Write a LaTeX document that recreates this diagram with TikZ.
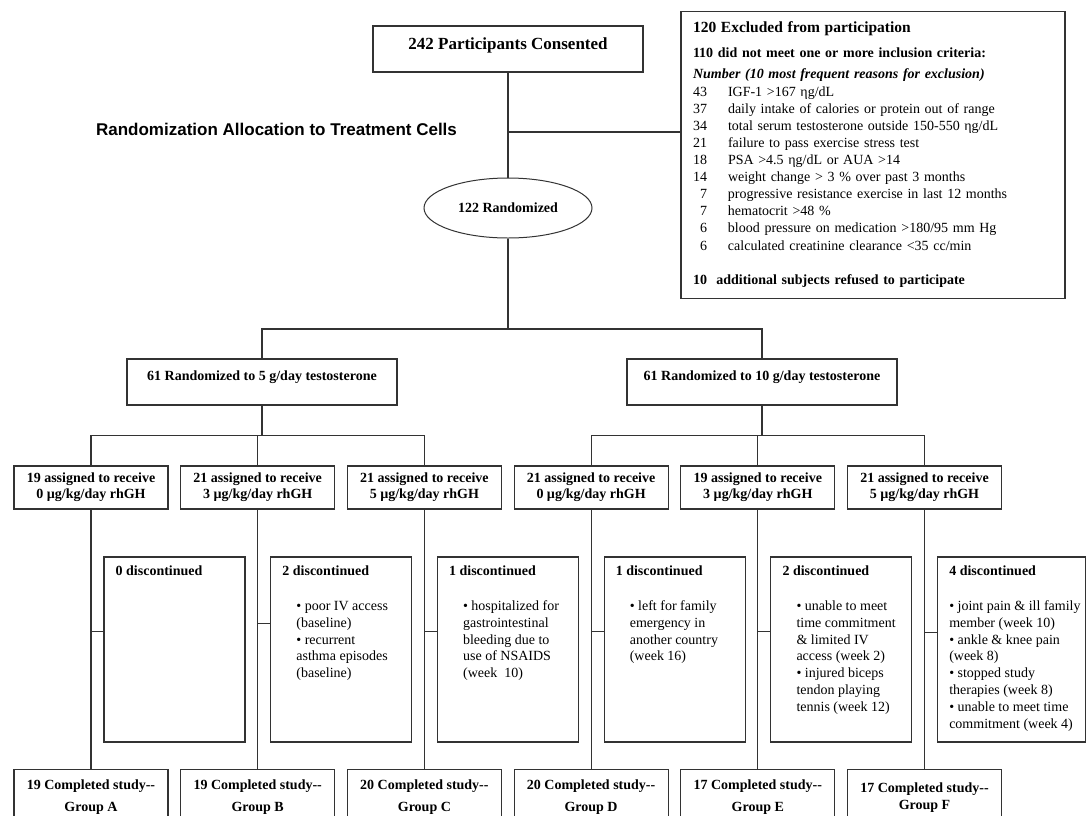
\documentclass[tikz,border=0pt]{standalone}
\usepackage{fontspec}
\setmainfont{Liberation Serif}
\newfontfamily\headfont{Liberation Sans}
\usetikzlibrary{shapes.geometric}

\definecolor{boxline}{HTML}{333333}
\tikzstyle{stage} = [rectangle, minimum width=270pt, minimum height=46pt, text centered, draw=boxline, line width=1.2pt, font=\bfseries\fontsize{14}{16}\selectfont, text depth=12pt]
\tikzstyle{arm} = [rectangle, minimum width=154pt, minimum height=43pt, text centered, align=center, draw=boxline, line width=1.2pt, font=\bfseries\fontsize{14}{16}\selectfont]
\tikzstyle{drop} = [rectangle, inner xsep=11.7pt, inner ysep=9pt, draw=boxline, line width=1.2pt, font=\fontsize{14}{16.8}\selectfont]
\tikzstyle{done} = [rectangle, minimum width=154pt, minimum height=56pt, text centered, align=center, draw=boxline, line width=1.2pt, font=\bfseries\fontsize{14}{22}\selectfont]
\tikzstyle{link} = [draw=boxline, line width=1.2pt]

\newcommand{\droptext}[2][117.6pt]{\parbox[t][167pt][t]{#1}{\raggedright #2}}
\newcommand{\reason}[2]{\makebox[14pt][r]{#1}\hspace{21pt}#2}

\begin{document}
\begin{tikzpicture}[x=1pt, y=-1pt, node distance=166.7pt]
\useasboundingbox[fill=white] (0,0) rectangle (1090,815);
\clip (0,0) rectangle (1090,815);

% Nodes
\node (title) [font=\headfont\bfseries\fontsize{17}{20}\selectfont] at (276.5,129) {Randomization Allocation to Treatment Cells};
\node (consent) [stage, font=\bfseries\fontsize{17}{20}\selectfont, text depth=10pt] at (508,49) {242 Participants Consented};
\node (excluded) [rectangle, draw=boxline, line width=1.2pt, minimum height=286.6pt, text width=360pt, inner xsep=12pt, align=left, font=\fontsize{14}{17}\selectfont] at (873,155) {%
{\fontsize{15.5}{17}\selectfont\bfseries 120 Excluded from participation}\\[8pt]
\textbf{110 did not meet one or more inclusion criteria:}\\[4pt]
\textbf{\itshape Number (10 most frequent reasons for exclusion)}\\[1pt]
\reason{43}{IGF-1 >167 ηg/dL}\\
\reason{37}{daily intake of calories or protein out of range}\\
\reason{34}{total serum testosterone outside 150-550 ηg/dL}\\
\reason{21}{failure to pass exercise stress test}\\
\reason{18}{PSA >4.5 ηg/dL or AUA >14}\\
\reason{14}{weight change > 3 \% over past 3 months}\\
\reason{7}{progressive resistance exercise in last 12 months}\\
\reason{7}{hematocrit >48 \%}\\
\reason{6}{blood pressure on medication >180/95 mm Hg}\\[1pt]
\reason{6}{calculated creatinine clearance <35 cc/min}\\[17pt]
\textbf{10\ \ additional subjects refused to participate}};
\node (randomized) [ellipse, draw=boxline, line width=1pt, minimum width=168pt, minimum height=60pt, inner sep=0pt, font=\bfseries\fontsize{14}{16}\selectfont, below of=consent, yshift=7.7pt] {122 Randomized};
\node (lowT) [stage] at (262,382) {61 Randomized to 5 g/day testosterone};
\node (highT) [stage, right of=lowT, xshift=333.3pt] {61 Randomized to 10 g/day testosterone};

\node (armA) [arm] at (91,487.5) {19 assigned to receive\\0 µg/kg/day rhGH};
\node (armB) [arm, right of=armA] {21 assigned to receive\\3 µg/kg/day rhGH};
\node (armC) [arm, right of=armB] {21 assigned to receive\\5 µg/kg/day rhGH};
\node (armD) [arm, right of=armC] {21 assigned to receive\\0 µg/kg/day rhGH};
\node (armE) [arm, right of=armD] {19 assigned to receive\\3 µg/kg/day rhGH};
\node (armF) [arm, right of=armE] {21 assigned to receive\\5 µg/kg/day rhGH};

\node (dropA) [drop, below of=armA, xshift=83.5pt, yshift=4.7pt] {\droptext{\textbf{0 discontinued}}};
\node (dropB) [drop, below of=armB, xshift=83.5pt, yshift=4.7pt] {\droptext{\textbf{2 discontinued}\par\vspace{18pt}
  {\leftskip=14pt • poor IV access\\(baseline)\\• recurrent\\asthma episodes\\(baseline)\par}}};
\node (dropC) [drop, below of=armC, xshift=83.5pt, yshift=4.7pt] {\droptext{\textbf{1 discontinued}\par\vspace{18pt}
  {\leftskip=14pt • hospitalized for\\gastrointestinal\\bleeding due to\\use of NSAIDS\\(week\ \ 10)\par}}};
\node (dropD) [drop, below of=armD, xshift=83.5pt, yshift=4.7pt] {\droptext{\textbf{1 discontinued}\par\vspace{18pt}
  {\leftskip=14pt • left for family\\emergency in\\another country\\(week 16)\par}}};
\node (dropE) [drop, below of=armE, xshift=83.5pt, yshift=4.7pt] {\droptext{\textbf{2 discontinued}\par\vspace{18pt}
  {\leftskip=14pt • unable to meet\\time commitment\\\& limited IV\\access (week 2)\\• injured biceps\\tendon playing\\tennis (week 12)\par}}};
\node (dropF) [drop, below of=armF, xshift=87.2pt, yshift=4.7pt] {\droptext[124.9pt]{\textbf{4 discontinued}\par\vspace{18pt}
  \mbox{• joint pain \& ill family}\\member (week 10)\\• ankle \& knee pain\\(week 8)\\• stopped study\\therapies (week 8)\\\mbox{• unable to meet time}\\commitment (week 4)}};

\node (doneA) [done, below of=armA, yshift=-143.3pt] {19 Completed study-{}-\\Group A};
\node (doneB) [done, below of=armB, yshift=-143.3pt] {19 Completed study-{}-\\Group B};
\node (doneC) [done, below of=armC, yshift=-143.3pt] {20 Completed study-{}-\\Group C};
\node (doneD) [done, below of=armD, yshift=-143.3pt] {20 Completed study-{}-\\Group D};
\node (doneE) [done, below of=armE, yshift=-143.3pt] {17 Completed study-{}-\\Group E};
\node (doneF) [done, below of=armF, yshift=-143.3pt] {17 Completed study-{}-\\[-5pt]Group F};

% Connectors
\coordinate (exclfork) at (508,132);
\coordinate (armfork) at (508,329);
\draw [link] (consent) -- (randomized);
\draw [link] (exclfork) -- (exclfork -| excluded.west);
\draw [link] (randomized) -- (armfork);
\draw [link] (lowT.north) |- (armfork) -| (highT.north);
\draw [link] (lowT.south) -- ++(0,30) coordinate (lowfork);
\draw [link] (highT.south) -- ++(0,30) coordinate (highfork);
\draw [link] (armA.north) |- (lowfork) -| (armC.north);
\draw [link] (lowfork -| armB.north) -- (armB.north);
\draw [link] (armD.north) |- (highfork) -| (armF.north);
\draw [link] (highfork -| armE.north) -- (armE.north);

\draw [link] (armA) -- (doneA);
\draw [link] (armB) -- (doneB);
\draw [link] (armC) -- (doneC);
\draw [link] (armD) -- (doneD);
\draw [link] (armE) -- (doneE);
\draw [link] (armF) -- (doneF);

\draw [link] (dropA.166) -- (dropA.166 -| armA.south);
\draw [link] (dropB.160) -- (dropB.160 -| armB.south);
\draw [link] (dropC.166) -- (dropC.166 -| armC.south);
\draw [link] (dropD.166) -- (dropD.166 -| armD.south);
\draw [link] (dropE.166) -- (dropE.166 -| armE.south);
\draw [link] (dropF.167) -- (dropF.167 -| armF.south);

\end{tikzpicture}
\end{document}
